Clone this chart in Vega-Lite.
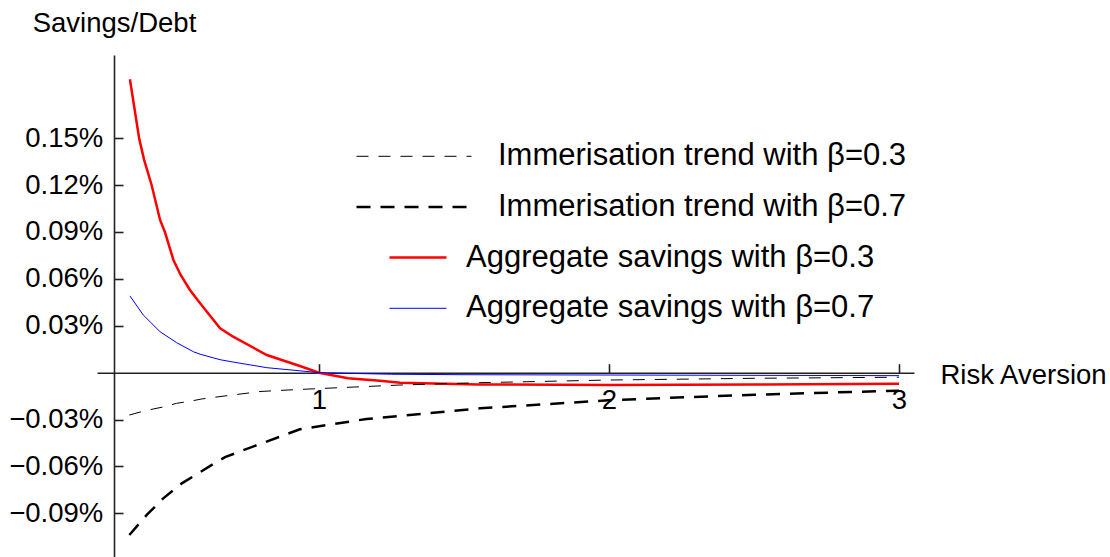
{
  "$schema": "https://vega.github.io/schema/vega-lite/v6.json",
  "width": 817,
  "height": 502,
  "autosize": {"type": "none"},
  "padding": {"left": 97, "top": 55, "right": 196, "bottom": 0},
  "background": "white",
  "config": {
    "view": {"stroke": null},
    "font": "Liberation Sans",
    "axis": {
      "grid": false,
      "domainColor": "#222222",
      "domainWidth": 1.6,
      "tickColor": "#222222",
      "tickWidth": 1.6,
      "labelFont": "Liberation Sans",
      "labelFontSize": 27.5,
      "labelColor": "black",
      "titleFont": "Liberation Sans",
      "titleFontSize": 27.5,
      "titleFontWeight": "normal",
      "titleColor": "black"
    },
    "legend": {
      "labelFont": "Liberation Sans",
      "labelFontSize": 31,
      "labelColor": "black",
      "padding": 0
    }
  },
  "data": {
    "values": [
      {"series": "Aggregate savings with β=0.3", "risk_aversion": 0.348, "savings_debt_pct": 0.1877},
      {"series": "Aggregate savings with β=0.3", "risk_aversion": 0.380, "savings_debt_pct": 0.1497},
      {"series": "Aggregate savings with β=0.3", "risk_aversion": 0.397, "savings_debt_pct": 0.1361},
      {"series": "Aggregate savings with β=0.3", "risk_aversion": 0.423, "savings_debt_pct": 0.1199},
      {"series": "Aggregate savings with β=0.3", "risk_aversion": 0.452, "savings_debt_pct": 0.0977},
      {"series": "Aggregate savings with β=0.3", "risk_aversion": 0.469, "savings_debt_pct": 0.0898},
      {"series": "Aggregate savings with β=0.3", "risk_aversion": 0.498, "savings_debt_pct": 0.0721},
      {"series": "Aggregate savings with β=0.3", "risk_aversion": 0.523, "savings_debt_pct": 0.0625},
      {"series": "Aggregate savings with β=0.3", "risk_aversion": 0.555, "savings_debt_pct": 0.0529},
      {"series": "Aggregate savings with β=0.3", "risk_aversion": 0.590, "savings_debt_pct": 0.0444},
      {"series": "Aggregate savings with β=0.3", "risk_aversion": 0.659, "savings_debt_pct": 0.0284},
      {"series": "Aggregate savings with β=0.3", "risk_aversion": 0.704, "savings_debt_pct": 0.0230},
      {"series": "Aggregate savings with β=0.3", "risk_aversion": 0.820, "savings_debt_pct": 0.0113},
      {"series": "Aggregate savings with β=0.3", "risk_aversion": 0.934, "savings_debt_pct": 0.0043},
      {"series": "Aggregate savings with β=0.3", "risk_aversion": 1.0, "savings_debt_pct": 0.0},
      {"series": "Aggregate savings with β=0.3", "risk_aversion": 1.10, "savings_debt_pct": -0.0036},
      {"series": "Aggregate savings with β=0.3", "risk_aversion": 1.21, "savings_debt_pct": -0.0051},
      {"series": "Aggregate savings with β=0.3", "risk_aversion": 1.28, "savings_debt_pct": -0.0064},
      {"series": "Aggregate savings with β=0.3", "risk_aversion": 1.55, "savings_debt_pct": -0.0075},
      {"series": "Aggregate savings with β=0.3", "risk_aversion": 2.0, "savings_debt_pct": -0.0079},
      {"series": "Aggregate savings with β=0.3", "risk_aversion": 2.5, "savings_debt_pct": -0.0076},
      {"series": "Aggregate savings with β=0.3", "risk_aversion": 3.0, "savings_debt_pct": -0.0071},

      {"series": "Aggregate savings with β=0.7", "risk_aversion": 0.348, "savings_debt_pct": 0.0491},
      {"series": "Aggregate savings with β=0.7", "risk_aversion": 0.394, "savings_debt_pct": 0.0369},
      {"series": "Aggregate savings with β=0.7", "risk_aversion": 0.452, "savings_debt_pct": 0.0262},
      {"series": "Aggregate savings with β=0.7", "risk_aversion": 0.509, "savings_debt_pct": 0.0192},
      {"series": "Aggregate savings with β=0.7", "risk_aversion": 0.567, "savings_debt_pct": 0.0134},
      {"series": "Aggregate savings with β=0.7", "risk_aversion": 0.590, "savings_debt_pct": 0.0118},
      {"series": "Aggregate savings with β=0.7", "risk_aversion": 0.659, "savings_debt_pct": 0.0083},
      {"series": "Aggregate savings with β=0.7", "risk_aversion": 0.704, "savings_debt_pct": 0.0068},
      {"series": "Aggregate savings with β=0.7", "risk_aversion": 0.820, "savings_debt_pct": 0.0032},
      {"series": "Aggregate savings with β=0.7", "risk_aversion": 0.934, "savings_debt_pct": 0.0012},
      {"series": "Aggregate savings with β=0.7", "risk_aversion": 1.0, "savings_debt_pct": 0.0},
      {"series": "Aggregate savings with β=0.7", "risk_aversion": 1.25, "savings_debt_pct": -0.0010},
      {"series": "Aggregate savings with β=0.7", "risk_aversion": 1.5, "savings_debt_pct": -0.0013},
      {"series": "Aggregate savings with β=0.7", "risk_aversion": 2.0, "savings_debt_pct": -0.0015},
      {"series": "Aggregate savings with β=0.7", "risk_aversion": 2.5, "savings_debt_pct": -0.0017},
      {"series": "Aggregate savings with β=0.7", "risk_aversion": 3.0, "savings_debt_pct": -0.0019},

      {"series": "Immerisation trend with β=0.3", "risk_aversion": 0.346, "savings_debt_pct": -0.0271},
      {"series": "Immerisation trend with β=0.3", "risk_aversion": 0.389, "savings_debt_pct": -0.0249},
      {"series": "Immerisation trend with β=0.3", "risk_aversion": 0.429, "savings_debt_pct": -0.0232},
      {"series": "Immerisation trend with β=0.3", "risk_aversion": 0.469, "savings_debt_pct": -0.0217},
      {"series": "Immerisation trend with β=0.3", "risk_aversion": 0.509, "savings_debt_pct": -0.0196},
      {"series": "Immerisation trend with β=0.3", "risk_aversion": 0.555, "savings_debt_pct": -0.0183},
      {"series": "Immerisation trend with β=0.3", "risk_aversion": 0.596, "savings_debt_pct": -0.0168},
      {"series": "Immerisation trend with β=0.3", "risk_aversion": 0.641, "savings_debt_pct": -0.0157},
      {"series": "Immerisation trend with β=0.3", "risk_aversion": 0.80, "savings_debt_pct": -0.0120},
      {"series": "Immerisation trend with β=0.3", "risk_aversion": 0.923, "savings_debt_pct": -0.0108},
      {"series": "Immerisation trend with β=0.3", "risk_aversion": 1.279, "savings_debt_pct": -0.0079},
      {"series": "Immerisation trend with β=0.3", "risk_aversion": 1.555, "savings_debt_pct": -0.0064},
      {"series": "Immerisation trend with β=0.3", "risk_aversion": 2.0, "savings_debt_pct": -0.0047},
      {"series": "Immerisation trend with β=0.3", "risk_aversion": 2.5, "savings_debt_pct": -0.0036},
      {"series": "Immerisation trend with β=0.3", "risk_aversion": 3.0, "savings_debt_pct": -0.0029},

      {"series": "Immerisation trend with β=0.7", "risk_aversion": 0.346, "savings_debt_pct": -0.1038},
      {"series": "Immerisation trend with β=0.7", "risk_aversion": 0.406, "savings_debt_pct": -0.0910},
      {"series": "Immerisation trend with β=0.7", "risk_aversion": 0.463, "savings_debt_pct": -0.0804},
      {"series": "Immerisation trend with β=0.7", "risk_aversion": 0.527, "savings_debt_pct": -0.0708},
      {"series": "Immerisation trend with β=0.7", "risk_aversion": 0.636, "savings_debt_pct": -0.0584},
      {"series": "Immerisation trend with β=0.7", "risk_aversion": 0.676, "savings_debt_pct": -0.0540},
      {"series": "Immerisation trend with β=0.7", "risk_aversion": 0.791, "savings_debt_pct": -0.0460},
      {"series": "Immerisation trend with β=0.7", "risk_aversion": 0.934, "savings_debt_pct": -0.0362},
      {"series": "Immerisation trend with β=0.7", "risk_aversion": 1.164, "savings_debt_pct": -0.0296},
      {"series": "Immerisation trend with β=0.7", "risk_aversion": 1.279, "savings_debt_pct": -0.0277},
      {"series": "Immerisation trend with β=0.7", "risk_aversion": 1.555, "savings_debt_pct": -0.0228},
      {"series": "Immerisation trend with β=0.7", "risk_aversion": 2.01, "savings_debt_pct": -0.0175},
      {"series": "Immerisation trend with β=0.7", "risk_aversion": 2.5, "savings_debt_pct": -0.0141},
      {"series": "Immerisation trend with β=0.7", "risk_aversion": 3.0, "savings_debt_pct": -0.0115}
    ]
  },
  "encoding": {
    "x": {
      "field": "risk_aversion",
      "type": "quantitative",
      "scale": {"domain": [0.2345, 3.0517], "nice": false, "zero": false},
      "axis": {
        "values": [1, 2, 3],
        "offset": -184.3,
        "tickSize": -9,
        "labelPadding": 22.4,
        "labelBaseline": "top",
        "labelFlush": false,
        "labelOverlap": false,
        "title": "Risk Aversion",
        "titleAngle": 0,
        "titleAlign": "left",
        "titleBaseline": "alphabetic",
        "titleX": 843,
        "titleY": 10.6
      }
    },
    "y": {
      "field": "savings_debt_pct",
      "type": "quantitative",
      "scale": {"domain": [-0.1179, 0.2032], "nice": false, "zero": false},
      "axis": {
        "values": [-0.09, -0.06, -0.03, 0.03, 0.06, 0.09, 0.12, 0.15],
        "offset": -17,
        "tickSize": -9,
        "labelPadding": 20.3,
        "labelFlush": false,
        "labelOverlap": false,
        "labelExpr": "(datum.value < 0 ? '−' : '') + format(abs(datum.value), '.2f') + '%'",
        "title": "Savings/Debt",
        "titleAngle": 0,
        "titleAlign": "center",
        "titleBaseline": "alphabetic",
        "titleX": 0,
        "titleY": -23.3
      }
    }
  },
  "layer": [
    {
      "transform": [{"filter": "indexof(datum.series, 'Aggregate') == 0"}],
      "mark": {"type": "line"},
      "encoding": {
        "color": {
          "field": "series",
          "type": "nominal",
          "scale": {"domain": ["Aggregate savings with β=0.3", "Aggregate savings with β=0.7"], "range": ["#ff0000", "#0000ff"]},
          "legend": {"orient": "none", "legendX": 291, "legendY": 189.5, "title": null, "symbolType": "stroke", "symbolSize": 3249, "labelOffset": 18, "clipHeight": 26, "rowPadding": 19.8, "labelLimit": 0}
        },
        "strokeWidth": {
          "field": "series",
          "type": "nominal",
          "scale": {"domain": ["Aggregate savings with β=0.3", "Aggregate savings with β=0.7"], "range": [2.5, 1]},
          "legend": {"orient": "none", "legendX": 291, "legendY": 189.5, "title": null, "symbolType": "stroke", "symbolSize": 3249, "labelOffset": 18, "clipHeight": 26, "rowPadding": 19.8, "labelLimit": 0}
        }
      }
    },
    {
      "transform": [{"filter": "indexof(datum.series, 'Immerisation') == 0"}],
      "mark": {"type": "line", "color": "black"},
      "encoding": {
        "strokeDash": {
          "field": "series",
          "type": "nominal",
          "scale": {"domain": ["Immerisation trend with β=0.3", "Immerisation trend with β=0.7"], "range": [[12, 10], [14, 10]]},
          "legend": {"orient": "none", "legendX": 258, "legendY": 88.3, "title": null, "symbolType": "stroke", "symbolSize": 13225, "symbolStrokeColor": "black", "labelOffset": 25, "clipHeight": 26, "rowPadding": 19.8, "labelLimit": 0}
        },
        "strokeWidth": {
          "field": "series",
          "type": "nominal",
          "scale": {"domain": ["Immerisation trend with β=0.3", "Immerisation trend with β=0.7"], "range": [1, 2.5]},
          "legend": {"orient": "none", "legendX": 258, "legendY": 88.3, "title": null, "symbolType": "stroke", "symbolSize": 13225, "symbolStrokeColor": "black", "labelOffset": 25, "clipHeight": 26, "rowPadding": 19.8, "labelLimit": 0}
        }
      }
    }
  ],
  "resolve": {
    "scale": {"color": "independent", "strokeWidth": "independent", "strokeDash": "independent"},
    "legend": {"color": "independent", "strokeWidth": "independent", "strokeDash": "independent"}
  }
}
